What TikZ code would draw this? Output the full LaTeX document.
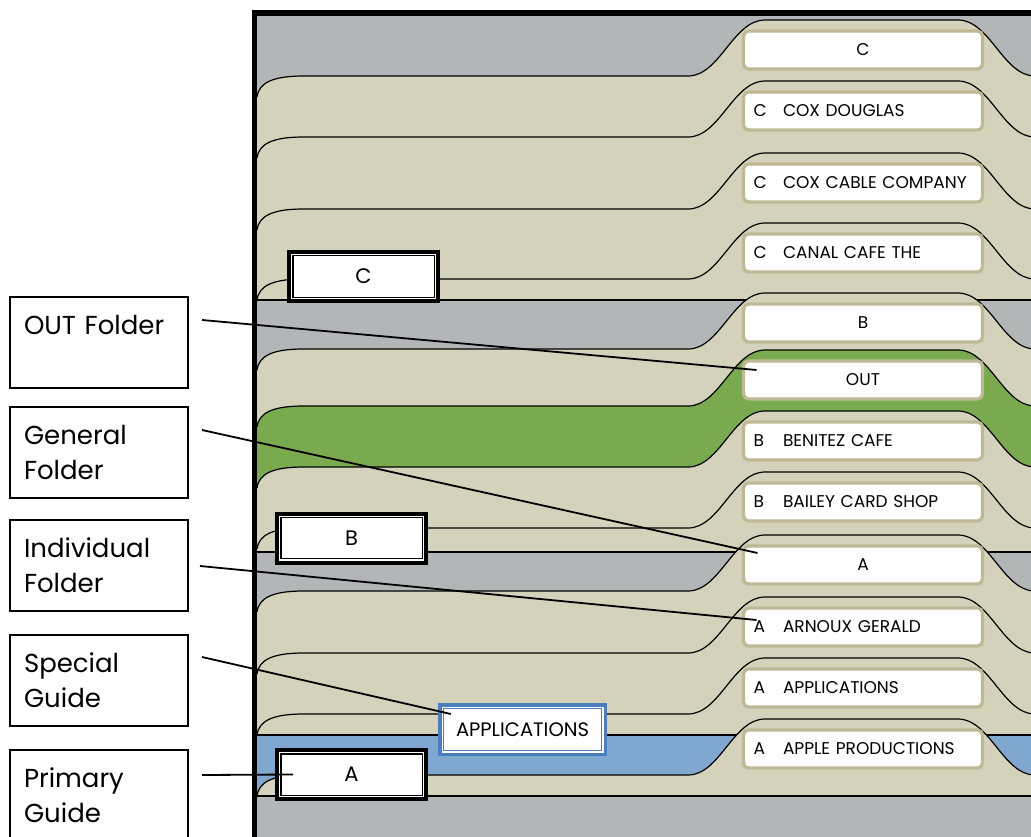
\documentclass[tikz,border=0pt]{standalone}
\usepackage{fontspec}
\setmainfont{Poppins}
\usetikzlibrary{calc}

\definecolor{drawergray}{RGB}{179,182,183}
\definecolor{folderbeige}{RGB}{212,210,187}
\definecolor{tabrim}{RGB}{190,184,148}
\definecolor{outgreen}{RGB}{122,170,78}
\definecolor{guideblue}{RGB}{128,167,207}
\definecolor{guiderim}{RGB}{74,126,190}

% top edge of one folder, #1 = height of its flat part
\newcommand\folderedge[1]{(257,#1+21) .. controls (259,#1+6) and (274,#1) .. (304,#1)
  -- (688,#1) .. controls (720,#1) and (733,#1-56) .. (765,#1-56)
  -- (958,#1-56) .. controls (990,#1-56) and (1003,#1) .. (1035,#1) -- (1045,#1)}
% #1 = top, #2 = bottom of the section, #3 = colour
\newcommand\folder[3]{%
  \fill[#3] \folderedge{#1} -- (1045,#2) -- (254,#2) -- cycle;
  \draw[foldline] \folderedge{#1};}
\newcommand\tabname[2]{\makebox[29.5pt][l]{#1}#2}

\begin{document}
\begin{tikzpicture}[x=1pt, y=-1pt,
    foldline/.style={draw=black, line width=1.2pt},
    pointer/.style={draw=black, line width=1.8pt},
    tabbox/.style={draw=tabrim, line width=3.2pt, fill=white, rounded corners=5pt,
      minimum width=239pt, minimum height=38pt, text width=219pt,
      inner xsep=10pt, inner ysep=0pt, align=left, outer sep=0pt,
      font=\fontsize{17}{20}\selectfont},
    guidebox/.style={draw=black, line width=4pt, fill=white, outer sep=0pt,
      minimum width=149pt, minimum height=49pt, font=\fontsize{21}{25}\selectfont,
      path picture={\draw[line width=1.4pt]
        ($(path picture bounding box.north west)+(3.8,3.8)$) rectangle
        ($(path picture bounding box.south east)+(-3.8,-3.8)$);}},
    specialbox/.style={draw=guiderim, line width=3.5pt, fill=white, outer sep=0pt,
      minimum width=165.5pt, minimum height=49.5pt, font=\fontsize{19.5}{24}\selectfont,
      path picture={\draw[guiderim, line width=1.4pt]
        ($(path picture bounding box.north west)+(3.6,3.6)$) rectangle
        ($(path picture bounding box.south east)+(-3.6,-3.6)$);}},
    lblbox/.style={draw=black, line width=1.5pt, minimum width=178pt,
      minimum height=91pt, text width=150pt, inner xsep=14pt, align=left,
      outer sep=0pt, font=\fontsize{26}{35}\selectfont}]
  \useasboundingbox (0,0) rectangle (1031,837);
  \clip (0,0) rectangle (1031,837);

  \fill[drawergray] (254,13) rectangle (1045,850);

  % C section
  \folder{76}{300}{folderbeige}
  \node[tabbox, align=center] (ctab) at (863,50) {C};
  \folder{137}{300}{folderbeige}
  \node[tabbox] (coxdtab) at (863,111) {\tabname{C}{COX DOUGLAS}};
  \folder{209}{300}{folderbeige}
  \node[tabbox] (coxctab) at (863,183) {\tabname{C}{COX CABLE COMPANY}};
  \folder{279}{300}{folderbeige}
  \node[tabbox] (canaltab) at (863,253) {\tabname{C}{CANAL CAFE THE}};
  \draw[foldline] (254,300) -- (1045,300);

  % B section
  \folder{349}{552}{folderbeige}
  \node[tabbox, align=center] (btab) at (863,323) {B};
  \folder{406}{552}{outgreen}
  \node[tabbox, align=center] (outtab) at (863,380) {OUT};
  \folder{467}{552}{folderbeige}
  \node[tabbox] (benitab) at (863,441) {\tabname{B}{BENITEZ CAFE}};
  \folder{528}{552}{folderbeige}
  \node[tabbox] (baileytab) at (863,502) {\tabname{B}{BAILEY CARD SHOP}};
  \draw[foldline] (254,552) -- (1045,552);

  % A section
  \folder{591}{796}{folderbeige}
  \node[tabbox, align=center] (atab) at (863,565) {A};
  \folder{653}{796}{folderbeige}
  \node[tabbox] (arnouxtab) at (863,627) {\tabname{A}{ARNOUX GERALD}};
  \folder{714}{796}{folderbeige}
  \node[tabbox] (appltab) at (863,688) {\tabname{A}{APPLICATIONS}};
  \fill[guideblue] (254,735) rectangle (1045,796);
  \draw[foldline] (254,735) -- (1045,735);
  \folder{775}{796}{folderbeige}
  \node[tabbox] (appletab) at (863,749) {\tabname{A}{APPLE PRODUCTIONS}};
  \draw[foldline] (254,796) -- (1045,796);

  % guides
  \node[guidebox] (cguide) at (363.5,276.5) {C};
  \node[guidebox] (bguide) at (351.5,538) {B};
  \node[specialbox] (appguide) at (522.5,729.5) {APPLICATIONS};
  \node[guidebox] (aguide) at (351.5,774.5) {A};

  % drawer
  \draw[line width=5.5pt, line join=miter] (1045,13) -- (254.5,13) -- (254.5,850);

  % labels
  \node[lblbox] (outlbl) at (99,342.5) {OUT Folder\\\mbox{}};
  \node[lblbox] (genlbl) at (99,452.5) {General\\Folder};
  \node[lblbox] (indlbl) at (99,565.5) {Individual\\Folder};
  \node[lblbox] (speclbl) at (99,680.5) {Special\\Guide};
  \node[lblbox] (primlbl) at (99,795.5) {Primary\\Guide};

  \draw[pointer] ($(outlbl.north east)+(14,23)$) -- ($(outtab.west)+(13,-10)$);
  \draw[pointer] ($(genlbl.north east)+(14,23)$) -- ($(atab.west)+(14,-12)$);
  \draw[pointer] ($(indlbl.north east)+(12,46)$) -- ($(arnouxtab.west)+(13,-7)$);
  \draw[pointer] ($(speclbl.north east)+(14,22)$) -- ($(appguide.west)+(11,-15.5)$);
  \draw[pointer] ($(primlbl.north east)+(14,25)$) -- ($(aguide.west)+(16,0)$);
\end{tikzpicture}
\end{document}
